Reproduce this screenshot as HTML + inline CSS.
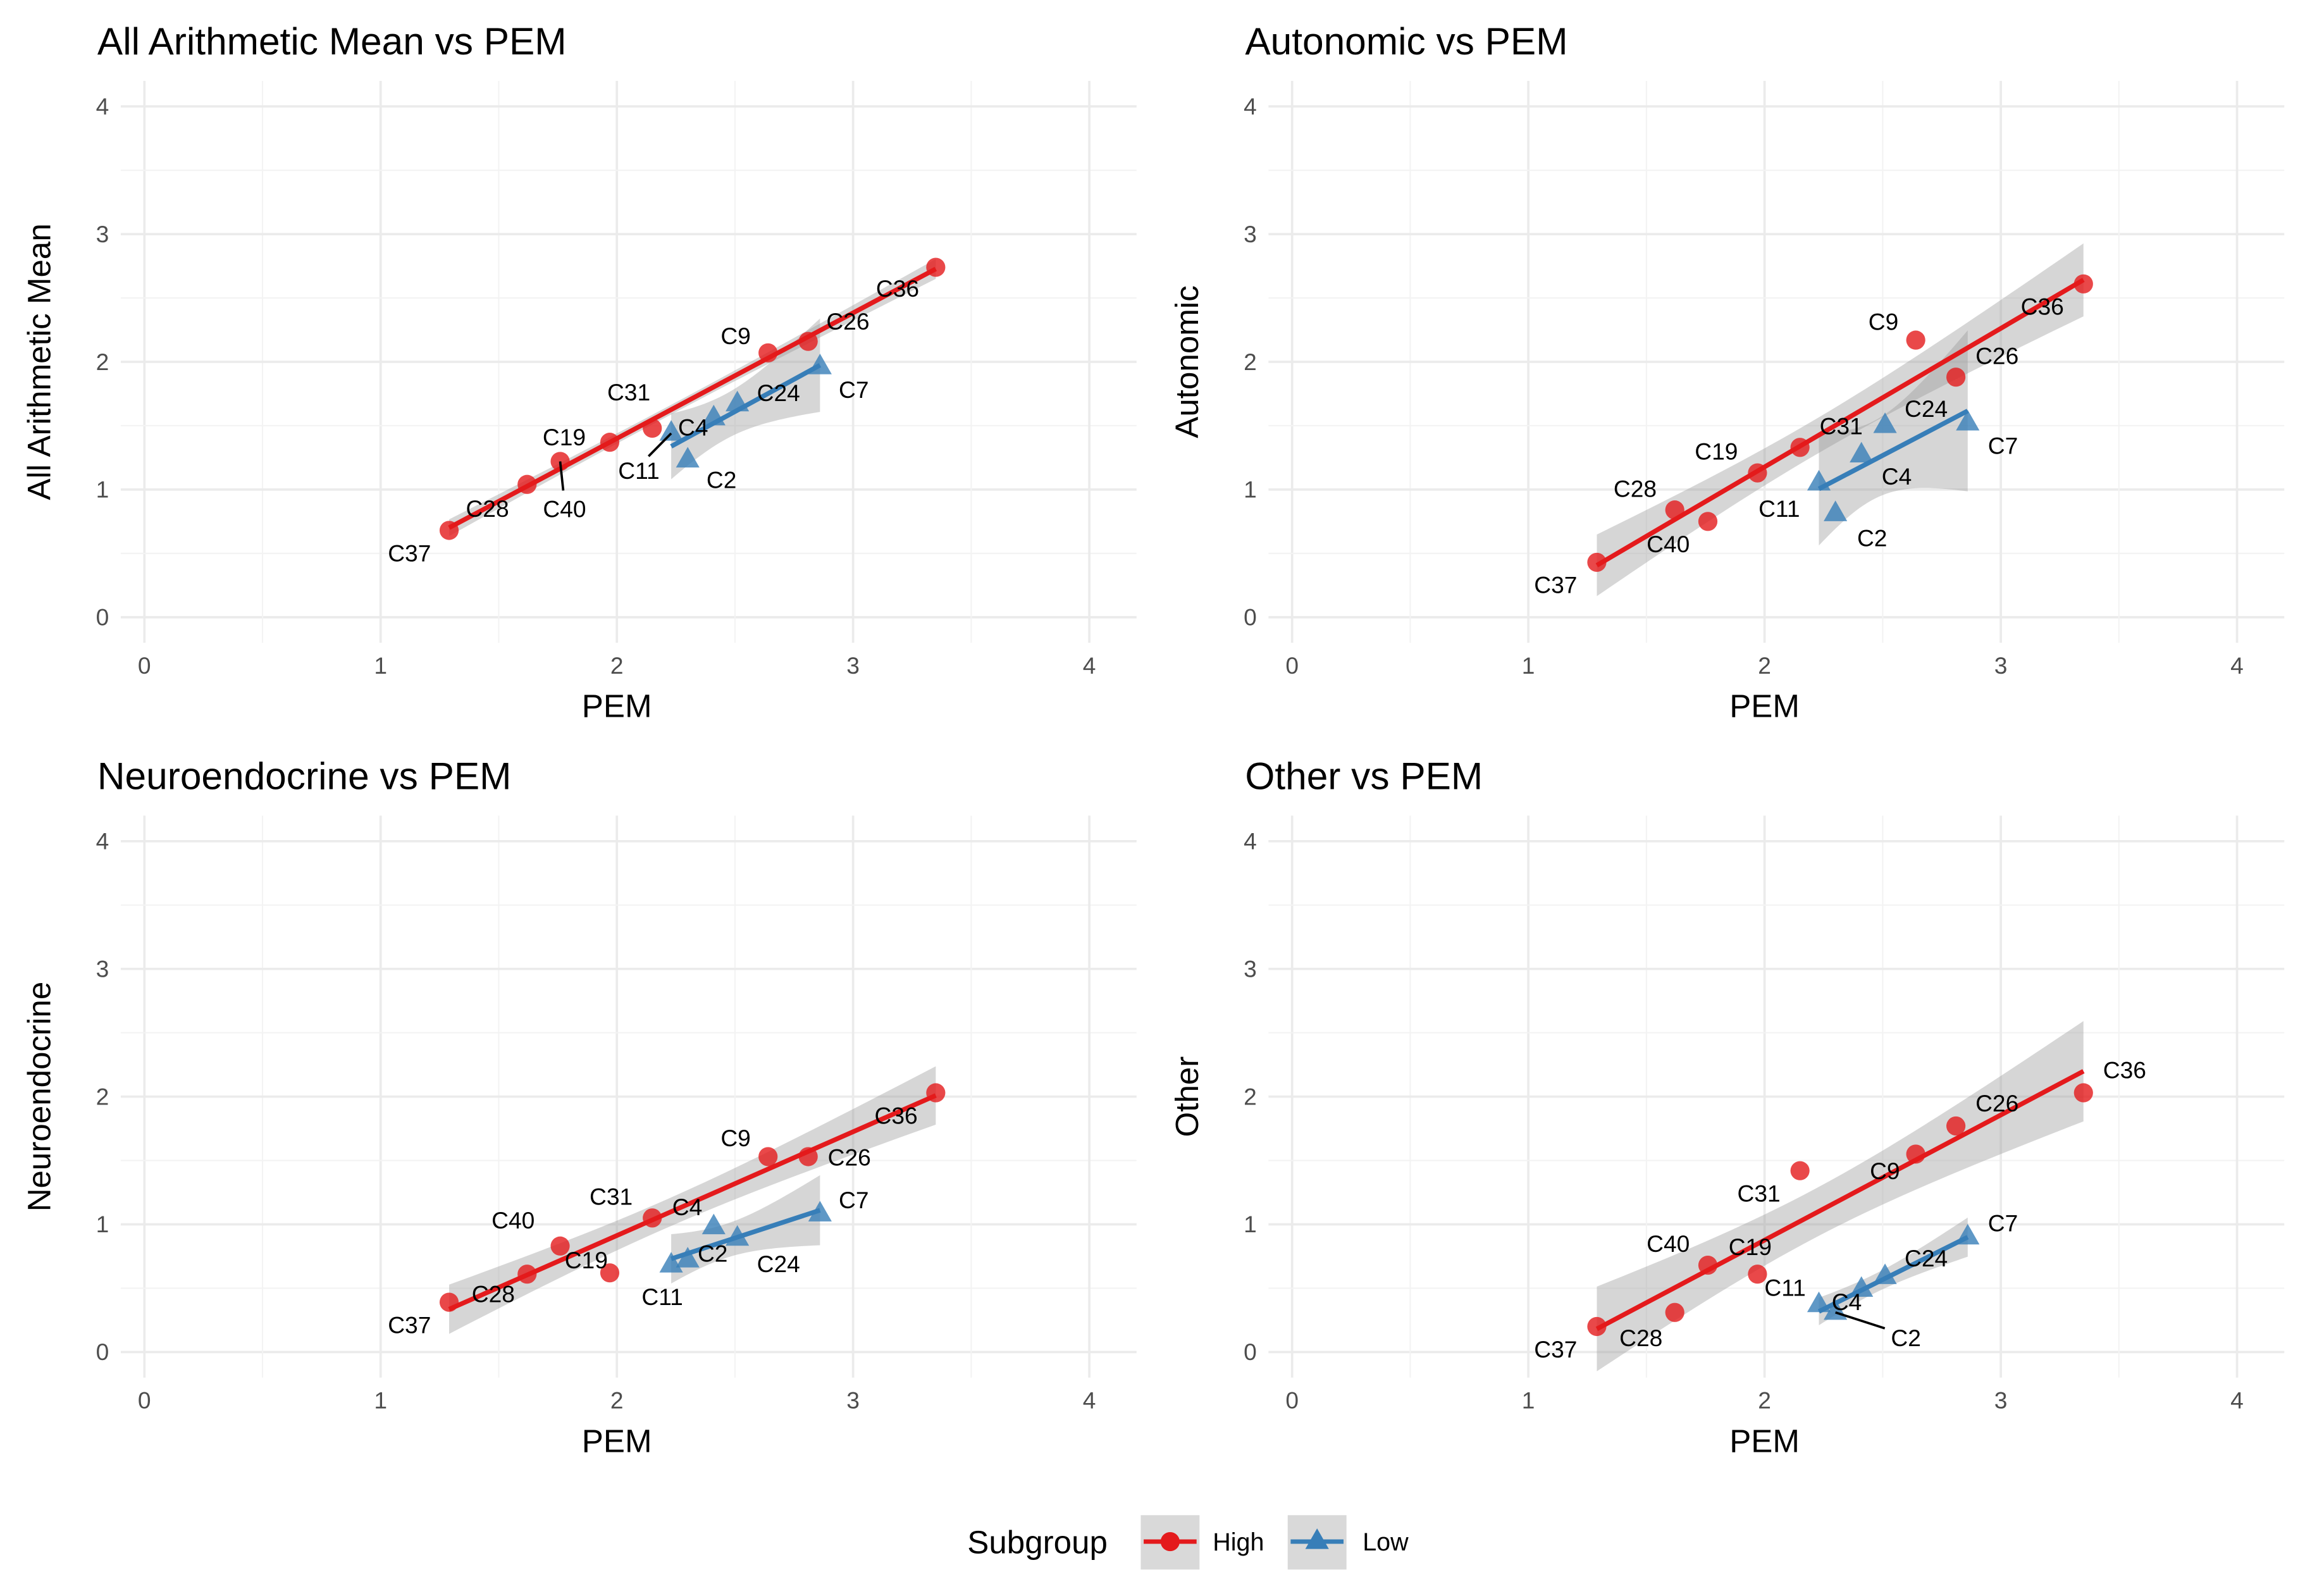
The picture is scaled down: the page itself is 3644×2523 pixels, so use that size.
<!DOCTYPE html>
<html><head><meta charset="utf-8"><style>
html,body{margin:0;padding:0;background:#fff;}
svg{display:block;font-family:"Liberation Sans",sans-serif;}
</style></head><body>
<svg id="chart" width="3644" height="2523" viewBox="0 0 1568 1086" xmlns="http://www.w3.org/2000/svg"></svg>
<script>
const highNames=["C37","C28","C40","C19","C31","C9","C26","C36"];
const lowNames=["C11","C2","C4","C24","C7"];
const highPEM=[1.29,1.62,1.76,1.97,2.15,2.64,2.81,3.35];
const lowPEM=[2.23,2.30,2.41,2.51,2.86];
const panelTitles=["All Arithmetic Mean vs PEM","Autonomic vs PEM","Neuroendocrine vs PEM","Other vs PEM"];
const yTitles=["All Arithmetic Mean","Autonomic","Neuroendocrine","Other"];
const highMean=[0.68,1.04,1.22,1.37,1.48,2.07,2.16,2.74];
const lowMean=[1.44,1.23,1.56,1.67,1.96];
const highAuto=[0.43,0.84,0.75,1.13,1.33,2.17,1.88,2.61];
const lowAuto=[1.05,0.81,1.27,1.50,1.52];
const highNeuro=[0.39,0.61,0.83,0.62,1.05,1.53,1.53,2.03];
const lowNeuro=[0.68,0.72,0.98,0.89,1.08];
const highOther=[0.20,0.31,0.68,0.61,1.42,1.55,1.77,2.03];
const lowOther=[0.37,0.31,0.49,0.59,0.90];
const tickVals=[0,1,2,3,4];
const tickLabels=["0","1","2","3","4"];

const highY=[highMean,highAuto,highNeuro,highOther];
const lowY=[lowMean,lowAuto,lowNeuro,lowOther];
// label offsets (layout, px)
const hiOff=[
 [[-27,16],[-27,17],[3,33,1],[-31,-3],[-16,-24],[-22,-11],[27,-13],[-26,15]],
 [[-28,16],[-27,-14],[-27,16],[-28,-14],[28,-14],[-22,-12],[28,-14],[-28,16]],
 [[-27,16],[-23,14],[-32,-17],[-16,-8],[-28,-14],[-22,-12],[28,1],[-27,16]],
 [[-28,16],[-23,18],[-27,-14],[-5,-18],[-28,16],[-21,12],[28,-15],[28,-15]]];
const loOff=[
 [[-22,26,1],[23,14],[-14,7],[28,-7],[23,16]],
 [[-27,18],[25,17],[24,15],[28,-11],[24,16]],
 [[-6,22],[17,-4],[-18,-13],[28,18],[23,-9]],
 [[-23,-11],[48,18,1],[-10,9],[28,-12],[24,-9]]];
const RED="#E41A1C",BLUE="#377EB8";
const svg=document.getElementById('chart');
const NS="http://www.w3.org/2000/svg";
function mk(tag,attrs,parent){const e=document.createElementNS(NS,tag);for(const k in attrs)e.setAttribute(k,attrs[k]);(parent||svg).appendChild(e);return e;}
function fit(xs,ys,tq){const n=xs.length;const mx=xs.reduce((a,b)=>a+b)/n,my=ys.reduce((a,b)=>a+b)/n;let sxx=0,sxy=0;for(let i=0;i<n;i++){sxx+=(xs[i]-mx)**2;sxy+=(xs[i]-mx)*(ys[i]-my);}const b=sxy/sxx,a=my-b*mx;let sse=0;for(let i=0;i<n;i++)sse+=(ys[i]-a-b*xs[i])**2;const s=Math.sqrt(sse/(n-2));return {a,b,f:x=>a+b*x,se:x=>tq*s*Math.sqrt(1/n+(x-mx)**2/sxx)};}
const px0=[98,879,98,879],py0=[420,420,920,920];
const XS=160.75,YS=86.9;
for(let p=0;p<4;p++){
 const g=mk('g',{});
 
 
 const X=v=>px0[p]+v*XS, Y=v=>py0[p]-v*YS;
 const left=X(-0.1),right=X(4.2),top=Y(4.2),bot=Y(-0.2);
 for(let v=-0.0;v<=4.01;v+=0.5){const major=Math.abs(v-Math.round(v))<0.01;
  mk('line',{x1:X(v),x2:X(v),y1:top,y2:bot,stroke:major?"#ebebeb":"#f3f3f3","stroke-width":major?1.6:0.9},g);
  mk('line',{x1:left,x2:right,y1:Y(v),y2:Y(v),stroke:major?"#ebebeb":"#f3f3f3","stroke-width":major?1.6:0.9},g);}
 tickVals.forEach((v,i)=>{
  const tx=mk('text',{x:X(v),y:Y(-0.2)+21,"text-anchor":"middle","font-size":16,fill:"#4d4d4d"},g);tx.textContent=tickLabels[i];
  
  const ty=mk('text',{x:left-8,y:Y(v)+5.5,"text-anchor":"end","font-size":16,fill:"#4d4d4d"},g);ty.textContent=tickLabels[i];
  
 });
 const t=mk('text',{x:px0[p]-32,y:py0[p]-383,"font-size":26,fill:"#000"},g);t.textContent=panelTitles[p];
 
 const xt=mk('text',{x:X(2),y:py0[p]+68,"text-anchor":"middle","font-size":22},g);xt.textContent="PEM";
 
 const yx=px0[p]-64,yy=Y(2);
 const yt=mk('text',{x:yx,y:yy,"text-anchor":"middle","font-size":22,transform:`rotate(-90 ${yx} ${yy})`},g);yt.textContent=yTitles[p];
 
 const groups=[[highPEM,highY[p],2.447,RED,'high'],[lowPEM,lowY[p],3.182,BLUE,'low']];
 const fits=groups.map(gr=>fit(gr[0],gr[1],gr[2]));
 groups.forEach((gr,gi)=>{const F=fits[gi];const xmin=Math.min(...gr[0]),xmax=Math.max(...gr[0]);
  let up=[],dn=[];for(let k=0;k<=40;k++){const x=xmin+(xmax-xmin)*k/40;up.push(X(x)+","+Y(F.f(x)+F.se(x)));dn.unshift(X(x)+","+Y(F.f(x)-F.se(x)));}
  const band=mk('polygon',{points:up.concat(dn).join(" "),fill:"#999",opacity:0.4},g);
  
 });
 groups.forEach((gr,gi)=>{const F=fits[gi];const xmin=Math.min(...gr[0]),xmax=Math.max(...gr[0]);
  const ln=mk('line',{x1:X(xmin),y1:Y(F.f(xmin)),x2:X(xmax),y2:Y(F.f(xmax)),stroke:gr[3],"stroke-width":3.2},g);
  
 });
 highPEM.forEach((x,i)=>{const c=mk('circle',{cx:X(x),cy:Y(highY[p][i]),r:6.5,fill:RED,"fill-opacity":0.8},g);
  });
 lowPEM.forEach((x,i)=>{const cx=X(x),cy=Y(lowY[p][i]);const tr=mk('polygon',{points:`${cx},${cy-9} ${cx-8},${cy+5} ${cx+8},${cy+5}`,fill:BLUE,"fill-opacity":0.8},g);
  });
 const labs=[[highNames,highPEM,highY[p],hiOff[p]],[lowNames,lowPEM,lowY[p],loOff[p]]];
 labs.forEach(L=>{L[0].forEach((nm,i)=>{const cx=X(L[1][i]),cy=Y(L[2][i]);const o=L[3][i];
  if(o[2]){mk('line',{x1:cx,y1:cy,x2:cx+o[0]*0.7,y2:cy+o[1]*0.6,stroke:"#000","stroke-width":1.6},g);}
  const tl=mk('text',{x:cx+o[0],y:cy+o[1]+5,"text-anchor":"middle","font-size":16,fill:"#000"},g);tl.textContent=nm;
  });});
}
// legend
const lg=mk('g',{});
const lt=mk('text',{x:658,y:1057,"font-size":22},lg);lt.textContent="Subgroup";

const k1=mk('rect',{x:776,y:1031,width:40,height:37,fill:"#d9d9d9"},lg);
mk('line',{x1:778,x2:814,y1:1049,y2:1049,stroke:RED,"stroke-width":3},lg);mk('circle',{cx:796,cy:1049,r:6.5,fill:RED},lg);
const l1=mk('text',{x:825,y:1055,"font-size":17},lg);l1.textContent="High";
const k2=mk('rect',{x:876,y:1031,width:40,height:37,fill:"#d9d9d9"},lg);
mk('line',{x1:878,x2:914,y1:1049,y2:1049,stroke:BLUE,"stroke-width":3},lg);mk('polygon',{points:"896,1040 888,1054 904,1054",fill:BLUE},lg);
const l2=mk('text',{x:927,y:1055,"font-size":17},lg);l2.textContent="Low";
</script>
</body></html>
